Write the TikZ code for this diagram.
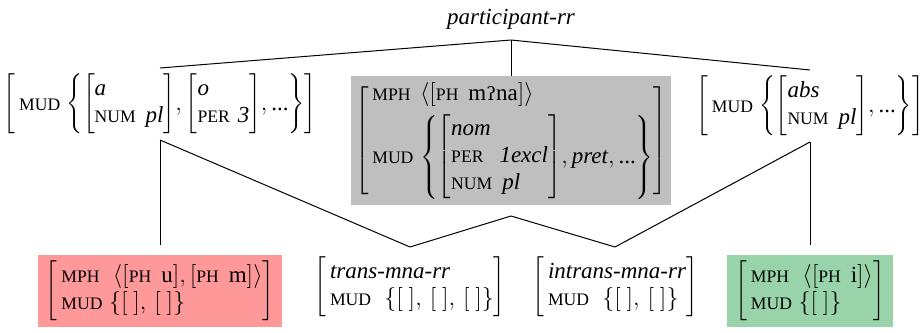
\documentclass[tikz,border=0pt]{standalone}
\usepackage{fontspec}
\setmainfont{Liberation Serif}
\newfontfamily\ipafont{DejaVu Serif}[Scale=0.8]
\definecolor{boxred}{RGB}{255,153,153}
\definecolor{boxgreen}{RGB}{153,211,170}
\definecolor{boxgrey}{RGB}{191,191,191}
% feature names as reduced capitals, atomic values in italics
\newcommand\feat[1]{\mbox{\fontsize{8.8}{10}\selectfont\upshape\MakeUppercase{#1}}}
\newcommand\val[1]{\textit{#1}}
\newcommand\etc{\textup{...}}
\newcommand\avmfont{\fontsize{11.5}{13.5}\selectfont}
\tikzset{
  tree/.style={line width=0.5pt},
  avm/.style={inner sep=1pt, outer sep=2pt, font=\avmfont},
  leaf/.style={inner sep=1pt, outer sep=4pt, font=\avmfont},
  shaded/.style={inner sep=3pt, outer sep=0pt, font=\avmfont}
}
\begin{document}
\begin{tikzpicture}[x=0.5pt,y=-0.5pt]
\useasboundingbox (0,0) rectangle (920,332);

% root type
\node[font=\avmfont\itshape, inner sep=0pt, anchor=base] (title) at (511,25) {participant-rr};
\coordinate (rootpt) at ([yshift=-7.5pt]title.base);

% upper row
\node[avm] (left) at (160,104) {\(\left[\,\feat{mud}\;{\left\{{\left[\begin{array}{@{}l@{}}\val{a}\\ \feat{num}\hspace{5pt}\val{pl}\end{array}\right]},{\left[\begin{array}{@{}l@{}}\val{o}\\ \feat{per}\hspace{4pt}\val{3}\end{array}\right]},\etc\right\}}\right]\)};

\node[shaded, fill=boxgrey, anchor=north, inner xsep=2pt] (mid) at (511,76) {\(\left[\begin{array}{@{\,}l@{\;}l@{}}
  \feat{mph} & {\bigl\langle\bigl[\feat{ph}\hspace{5pt}\textup{m{\ipafont ʔ}na}\bigr]\bigr\rangle}\\[3pt]
  \feat{mud} & {\left\{{\left[\begin{array}{@{}l@{}}\val{nom}\\ \feat{per}\hspace{8pt}\val{1excl}\\ \feat{num}\hspace{5pt}\val{pl}\end{array}\right]},\val{pret},\etc\right\}}
\end{array}\right]\)};
\coordinate (midfoot) at ([yshift=-5.5pt]mid.south);

\node[avm] (right) at (810,106) {\(\left[\,\feat{mud}\;{\left\{{\left[\begin{array}{@{}l@{}}\val{abs}\\ \feat{num}\hspace{5pt}\val{pl}\end{array}\right]},\etc\right\}}\right]\)};

% lower row
\node[shaded, fill=boxred, anchor=south, outer sep=5pt, inner xsep=4pt] (red) at (160,337) {\(\left[\begin{array}{@{\,}l@{}}
  \feat{mph}\;\;\bigl\langle\bigl[\feat{ph}\hspace{5pt}\textup{u}\bigr],\bigl[\feat{ph}\hspace{5pt}\textup{m}\bigr]\bigr\rangle\\
  \feat{mud}\;\bigl\{[\ ],\,[\ ]\bigr\}
\end{array}\right]\)};

\node[leaf] (trans) at (410,287) {\(\left[\begin{array}{@{\,}l@{}}
  \val{trans-mna-rr}\\
  \feat{mud}\;\;\bigl\{[\ ],\,[\ ],\,[\ ]\bigr\}
\end{array}\right]\)};

\node[leaf] (intrans) at (615,287) {\(\left[\begin{array}{@{\,}l@{}}
  \val{intrans-mna-rr}\\
  \feat{mud}\;\;\bigl\{[\ ],\,[\ ]\bigr\}
\end{array}\right]\)};

\node[shaded, fill=boxgreen, anchor=south, outer sep=5pt, inner xsep=4pt] (green) at (810,337) {\(\left[\begin{array}{@{\,}l@{}}
  \feat{mph}\;\;\bigl\langle\bigl[\feat{ph}\hspace{5pt}\textup{i}\bigr]\bigr\rangle\\
  \feat{mud}\;\bigl\{[\ ]\bigr\}
\end{array}\right]\)};

% type hierarchy
\draw[tree] (rootpt) -- (left.north);
\draw[tree] (rootpt) -- (mid.north);
\draw[tree] (rootpt) -- (right.north);
\draw[tree] (left.south) -- (red.north);
\draw[tree] (left.south) -- (trans.north);
\draw[tree] (midfoot) -- (trans.north);
\draw[tree] (midfoot) -- (intrans.north);
\draw[tree] (right.south) -- (intrans.north);
\draw[tree] (right.south) -- (green.north);
\end{tikzpicture}
\end{document}
